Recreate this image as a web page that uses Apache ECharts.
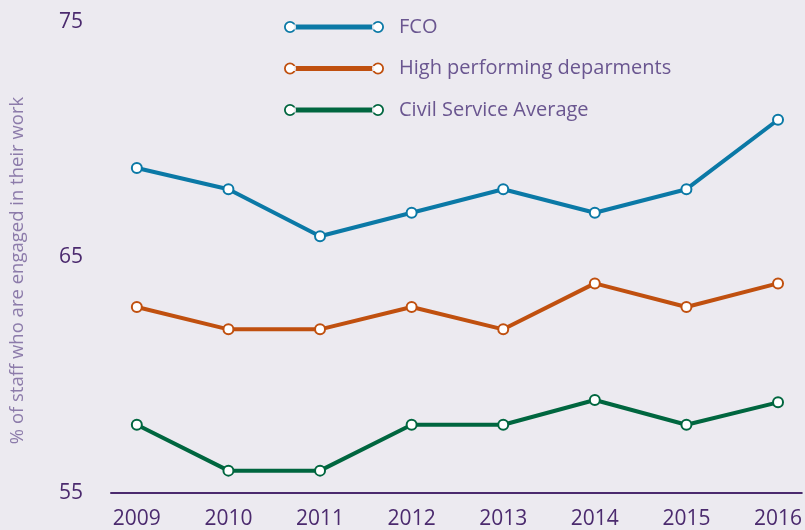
<!DOCTYPE html>
<html>
<head>
<meta charset="utf-8">
<script src="https://cdn.jsdelivr.net/npm/echarts@6/dist/echarts.min.js"></script>
<style>
  html, body { margin: 0; padding: 0; background: #ECEAF0; }
  #chart { width: 805px; height: 530px; }
</style>
</head>
<body>
<div id="chart"></div>
<script>
const years = [2009, 2010, 2011, 2012, 2013, 2014, 2015, 2016]
const fco = [68.8, 67.9, 65.9, 66.9, 67.9, 66.9, 67.9, 70.85]
const highPerforming = [62.9, 61.95, 61.95, 62.9, 61.95, 63.9, 62.9, 63.9]
const civilService = [57.9, 55.95, 55.95, 57.9, 57.9, 58.95, 57.9, 58.85]
const seriesNames = ['FCO', 'High performing deparments', 'Civil Service Average']
const colors = ['#0B79A6', '#C0500F', '#00663F']
const yTicks = [55, 65, 75]

const purple = '#4B2A6E'
const font = '"Open Sans", "Noto Sans", sans-serif'

// legend glyph: bar with two end circles, padded out to the right so the text sits further away
const iconLine = 'path://M0 0 M110 12 M6 3.6 H94 V8.4 H6 Z M0 6 A6 6 0 1 0 12 6 A6 6 0 1 0 0 6 Z M88 6 A6 6 0 1 0 100 6 A6 6 0 1 0 88 6 Z'
const iconDots = 'path://M0 0 M110 12 M1.8 6 A4.2 4.2 0 1 0 10.2 6 A4.2 4.2 0 1 0 1.8 6 Z M89.8 6 A4.2 4.2 0 1 0 98.2 6 A4.2 4.2 0 1 0 89.8 6 Z'

const legendBase = {
  orient: 'vertical',
  left: 284,
  top: 17,
  padding: 0,
  itemWidth: 110,
  itemHeight: 12,
  itemGap: 21.5,
  selectedMode: false,
  data: seriesNames,
  textStyle: { fontFamily: font, fontSize: 20, lineHeight: 20, color: '#6A5690' }
}

const chart = echarts.init(document.getElementById('chart'))

chart.setOption({
  backgroundColor: '#ECEAF0',
  animation: false,
  grid: { left: 110, right: 0, top: 22, bottom: 36 },
  legend: [
    Object.assign({}, legendBase, {
      icon: iconLine,
      itemStyle: { borderWidth: 0 }
    }),
    Object.assign({}, legendBase, {
      z: 6,
      icon: iconDots,
      itemStyle: { color: '#FFFFFF', borderWidth: 0 },
      textStyle: Object.assign({}, legendBase.textStyle, { color: 'rgba(0,0,0,0)' })
    })
  ],
  xAxis: {
    type: 'value',
    min: 2008.718,
    max: 2016.26,
    splitNumber: 8,
    splitLine: { show: false },
    axisTick: { show: false },
    axisLine: { show: true, lineStyle: { color: purple, width: 2 } },
    axisLabel: {
      margin: 16,
      fontFamily: font,
      fontSize: 21,
      color: purple,
      showMinLabel: false,
      showMaxLabel: false,
      formatter: v => (years.indexOf(Math.round(v)) >= 0 && Math.abs(v - Math.round(v)) < 1e-6) ? String(Math.round(v)) : ''
    }
  },
  yAxis: {
    type: 'value',
    min: yTicks[0],
    max: yTicks[yTicks.length - 1],
    interval: 10,
    name: '% of staff who are engaged in their work',
    nameLocation: 'middle',
    nameGap: 84,
    nameRotate: 90,
    nameTextStyle: { fontFamily: font, fontSize: 18.5, color: '#8C7BAA', padding: [0, 0, 0, -26] },
    splitLine: { show: false },
    axisTick: { show: false },
    axisLine: { show: false },
    axisLabel: { margin: 28, fontFamily: font, fontSize: 21, color: purple }
  },
  series: [fco, highPerforming, civilService].map((values, i) => ({
    name: seriesNames[i],
    type: 'line',
    color: colors[i],
    data: values.map((v, j) => [years[j], v]),
    symbol: 'emptyCircle',
    symbolSize: 10,
    itemStyle: { color: colors[i], borderWidth: 1.6 },
    lineStyle: { width: 4, color: colors[i] }
  }))
})
</script>
</body>
</html>
